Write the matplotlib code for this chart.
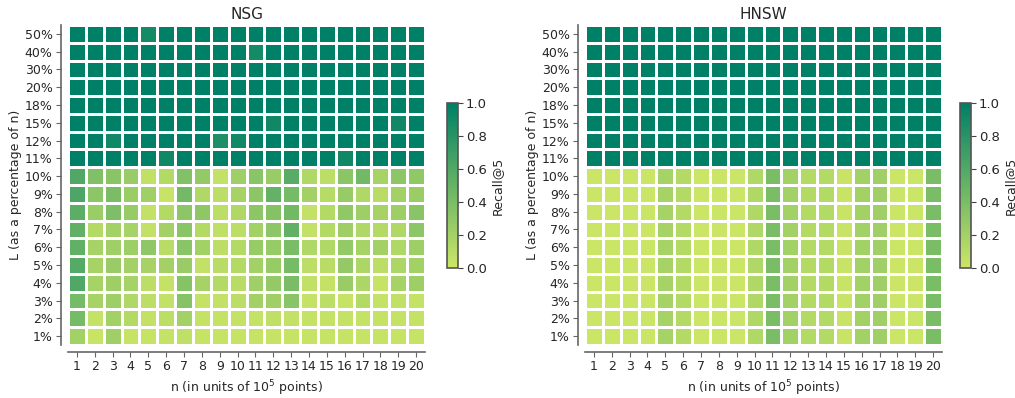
import numpy as np
import matplotlib
matplotlib.use("Agg")
import matplotlib.pyplot as plt
import seaborn as sns
from matplotlib.colors import ListedColormap

n_labels = [str(i) for i in range(1, 21)]
L_labels = ["50%", "40%", "30%", "20%", "18%", "15%", "12%", "11%", "10%",
            "9%", "8%", "7%", "6%", "5%", "4%", "3%", "2%", "1%"]

# Recall@5 for NSG, rows ordered 50% -> 1%
nsg_recall = [
    [1.0, 1.0, 1.0, 1.0, 0.90, 1.0, 1.0, 1.0, 1.0, 1.0, 1.0, 1.0, 1.0, 1.0, 1.0, 1.0, 1.0, 1.0, 1.0, 1.0],
    [1.0, 1.0, 1.0, 1.0, 1.0, 1.0, 1.0, 1.0, 1.0, 1.0, 0.90, 1.0, 1.0, 1.0, 1.0, 1.0, 1.0, 1.0, 1.0, 1.0],
    [1.0, 1.0, 1.0, 1.0, 1.0, 1.0, 1.0, 1.0, 1.0, 1.0, 1.0, 1.0, 1.0, 1.0, 1.0, 1.0, 1.0, 1.0, 1.0, 1.0],
    [1.0, 1.0, 1.0, 1.0, 1.0, 1.0, 1.0, 1.0, 1.0, 1.0, 1.0, 1.0, 1.0, 1.0, 1.0, 1.0, 1.0, 1.0, 1.0, 1.0],
    [1.0, 1.0, 1.0, 1.0, 1.0, 1.0, 1.0, 1.0, 1.0, 1.0, 1.0, 1.0, 1.0, 1.0, 1.0, 1.0, 1.0, 1.0, 1.0, 1.0],
    [1.0, 1.0, 1.0, 1.0, 1.0, 1.0, 1.0, 1.0, 1.0, 1.0, 1.0, 0.92, 1.0, 1.0, 1.0, 1.0, 1.0, 1.0, 0.92, 1.0],
    [1.0, 1.0, 0.91, 1.0, 1.0, 1.0, 1.0, 1.0, 0.85, 0.91, 1.0, 1.0, 1.0, 1.0, 1.0, 1.0, 1.0, 1.0, 1.0, 1.0],
    [1.0, 1.0, 1.0, 1.0, 1.0, 0.92, 1.0, 1.0, 1.0, 1.0, 1.0, 1.0, 1.0, 1.0, 1.0, 0.92, 1.0, 1.0, 1.0, 1.0],
    [0.60, 0.37, 0.33, 0.25, 0.06, 0.12, 0.36, 0.28, 0.05, 0.22, 0.33, 0.25, 0.57, 0.14, 0.08, 0.32, 0.44, 0.18, 0.31, 0.29],
    [0.62, 0.31, 0.40, 0.24, 0.22, 0.02, 0.43, 0.14, 0.08, 0.18, 0.31, 0.50, 0.42, 0.20, 0.11, 0.26, 0.14, 0.10, 0.21, 0.24],
    [0.55, 0.24, 0.39, 0.26, 0.05, 0.12, 0.31, 0.30, 0.08, 0.14, 0.31, 0.35, 0.44, 0.05, 0.12, 0.29, 0.23, 0.18, 0.23, 0.33],
    [0.52, 0.12, 0.21, 0.19, 0.05, 0.20, 0.33, 0.12, 0.07, 0.08, 0.21, 0.31, 0.52, 0.05, 0.12, 0.23, 0.14, 0.12, 0.14, 0.31],
    [0.52, 0.18, 0.22, 0.23, 0.30, 0.10, 0.33, 0.21, 0.08, 0.12, 0.26, 0.26, 0.40, 0.14, 0.14, 0.28, 0.19, 0.20, 0.14, 0.23],
    [0.58, 0.18, 0.25, 0.20, 0.18, 0.20, 0.25, 0.05, 0.10, 0.12, 0.21, 0.26, 0.42, 0.08, 0.10, 0.28, 0.16, 0.08, 0.16, 0.21],
    [0.60, 0.19, 0.23, 0.19, 0.08, 0.04, 0.34, 0.18, 0.12, 0.10, 0.22, 0.28, 0.40, 0.06, 0.04, 0.25, 0.16, 0.03, 0.18, 0.23],
    [0.42, 0.18, 0.23, 0.14, 0.08, 0.05, 0.34, 0.04, 0.05, 0.08, 0.20, 0.22, 0.33, 0.04, 0.08, 0.03, 0.12, 0.04, 0.06, 0.04],
    [0.42, 0.04, 0.21, 0.12, 0.05, 0.08, 0.20, 0.04, 0.04, 0.04, 0.04, 0.07, 0.05, 0.04, 0.04, 0.04, 0.04, 0.04, 0.04, 0.04],
    [0.21, 0.02, 0.22, 0.03, 0.03, 0.04, 0.07, 0.03, 0.03, 0.03, 0.03, 0.03, 0.03, 0.03, 0.03, 0.03, 0.03, 0.03, 0.03, 0.03],
]

# Recall@5 for HNSW, rows ordered 50% -> 1%
hnsw_recall = [
    [1.0, 1.0, 1.0, 1.0, 1.0, 1.0, 1.0, 1.0, 1.0, 1.0, 1.0, 1.0, 1.0, 1.0, 1.0, 1.0, 1.0, 1.0, 1.0, 1.0],
    [1.0, 1.0, 1.0, 1.0, 1.0, 1.0, 1.0, 1.0, 1.0, 1.0, 1.0, 1.0, 1.0, 1.0, 1.0, 1.0, 1.0, 1.0, 1.0, 1.0],
    [1.0, 1.0, 1.0, 1.0, 1.0, 1.0, 1.0, 1.0, 1.0, 1.0, 1.0, 1.0, 1.0, 1.0, 1.0, 1.0, 1.0, 1.0, 1.0, 1.0],
    [1.0, 1.0, 1.0, 1.0, 1.0, 1.0, 1.0, 1.0, 1.0, 1.0, 1.0, 1.0, 1.0, 1.0, 1.0, 1.0, 1.0, 1.0, 1.0, 1.0],
    [1.0, 1.0, 1.0, 1.0, 1.0, 1.0, 1.0, 1.0, 1.0, 1.0, 1.0, 1.0, 1.0, 1.0, 1.0, 1.0, 1.0, 1.0, 1.0, 1.0],
    [1.0, 1.0, 1.0, 1.0, 1.0, 1.0, 1.0, 1.0, 1.0, 1.0, 1.0, 1.0, 1.0, 1.0, 1.0, 1.0, 1.0, 1.0, 1.0, 1.0],
    [1.0, 1.0, 1.0, 1.0, 1.0, 1.0, 1.0, 1.0, 1.0, 1.0, 1.0, 1.0, 1.0, 1.0, 1.0, 1.0, 1.0, 1.0, 1.0, 1.0],
    [1.0, 1.0, 1.0, 1.0, 1.0, 1.0, 1.0, 1.0, 1.0, 1.0, 1.0, 1.0, 1.0, 1.0, 1.0, 1.0, 1.0, 1.0, 1.0, 1.0],
    [0.01, 0.01, 0.01, 0.01, 0.19, 0.12, 0.01, 0.01, 0.01, 0.14, 0.40, 0.21, 0.12, 0.12, 0.02, 0.21, 0.22, 0.01, 0.01, 0.40],
    [0.01, 0.01, 0.01, 0.01, 0.19, 0.12, 0.01, 0.01, 0.01, 0.14, 0.40, 0.21, 0.12, 0.12, 0.02, 0.21, 0.22, 0.01, 0.01, 0.40],
    [0.01, 0.01, 0.01, 0.01, 0.19, 0.12, 0.01, 0.01, 0.01, 0.14, 0.40, 0.21, 0.12, 0.12, 0.02, 0.21, 0.22, 0.01, 0.01, 0.40],
    [0.01, 0.01, 0.01, 0.01, 0.19, 0.12, 0.01, 0.01, 0.01, 0.14, 0.40, 0.21, 0.12, 0.12, 0.02, 0.21, 0.22, 0.01, 0.01, 0.40],
    [0.01, 0.01, 0.01, 0.01, 0.19, 0.12, 0.01, 0.01, 0.01, 0.14, 0.40, 0.21, 0.12, 0.12, 0.02, 0.21, 0.22, 0.01, 0.01, 0.40],
    [0.01, 0.01, 0.01, 0.01, 0.19, 0.12, 0.01, 0.01, 0.01, 0.14, 0.40, 0.21, 0.12, 0.12, 0.02, 0.21, 0.22, 0.01, 0.01, 0.40],
    [0.01, 0.01, 0.01, 0.01, 0.19, 0.12, 0.01, 0.01, 0.01, 0.14, 0.40, 0.21, 0.12, 0.12, 0.02, 0.21, 0.22, 0.01, 0.01, 0.40],
    [0.01, 0.01, 0.01, 0.01, 0.19, 0.12, 0.01, 0.01, 0.01, 0.14, 0.40, 0.21, 0.12, 0.12, 0.02, 0.21, 0.22, 0.01, 0.01, 0.40],
    [0.01, 0.01, 0.01, 0.01, 0.19, 0.12, 0.01, 0.01, 0.01, 0.14, 0.40, 0.21, 0.12, 0.12, 0.02, 0.21, 0.22, 0.01, 0.01, 0.40],
    [0.01, 0.01, 0.01, 0.01, 0.19, 0.12, 0.01, 0.01, 0.01, 0.14, 0.40, 0.21, 0.12, 0.12, 0.02, 0.21, 0.22, 0.01, 0.01, 0.40],
]

sns.set_style("ticks")
plt.rcParams["font.family"] = ["DejaVu Sans"]

# summer colormap, reversed and cut short so the low end stays yellow-green
cmap = ListedColormap(plt.get_cmap("summer")(np.linspace(0.8, 0.0, 256)))

W, H = 1015, 398
fig = plt.figure(figsize=(W / 100, H / 100), dpi=100)


def px_axes(x0, y0, x1, y1):
    return fig.add_axes([x0 / W, 1 - y1 / H, (x1 - x0) / W, (y1 - y0) / H])


panels = [
    ("NSG", nsg_recall, (68, 25, 425, 345), (447, 103, 458, 268)),
    ("HNSW", hnsw_recall, (585, 25, 942, 345), (960, 103, 971, 268)),
]

for title, data, box, cbox in panels:
    ax = px_axes(*box)
    cax = px_axes(*cbox)
    sns.heatmap(np.array(data), ax=ax, cbar_ax=cax, cmap=cmap, vmin=0, vmax=1,
                linewidths=0.9, linecolor="white",
                xticklabels=n_labels, yticklabels=L_labels,
                cbar_kws={"ticks": [0, 0.2, 0.4, 0.6, 0.8, 1.0]})
    ax.set_title(title, fontsize=11, pad=4)
    ax.set_xlabel("n (in units of $10^5$ points)", fontsize=9, labelpad=4)
    ax.set_ylabel("L (as a percentage of n)", fontsize=9, labelpad=2)
    ax.tick_params(axis="both", labelsize=9, color="#666666", length=3.5, pad=2.5)
    plt.setp(ax.get_yticklabels(), rotation=0)
    plt.setp(ax.get_xticklabels(), rotation=0)
    for side in ("left", "bottom"):
        ax.spines[side].set_visible(True)
        ax.spines[side].set_color("#666666")
        ax.spines[side].set_linewidth(1.2)
        ax.spines[side].set_position(("outward", 5))
    for side in ("top", "right"):
        ax.spines[side].set_visible(False)
    cbar = ax.collections[0].colorbar
    cbar.set_label("Recall@5", fontsize=9, labelpad=3)
    cax.tick_params(labelsize=9.5, color="#444444", length=3.5, pad=2)
    cbar.outline.set_visible(True)
    cbar.outline.set_edgecolor("#555555")
    cbar.outline.set_linewidth(1.2)

fig.savefig("out.png", dpi=100)
